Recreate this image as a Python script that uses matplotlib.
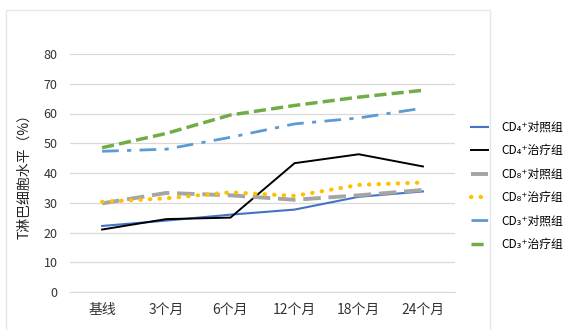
import matplotlib.pyplot as plt
from matplotlib.patches import Rectangle
import numpy as np

plt.rcParams['font.family'] = ['Noto Sans CJK SC', 'DejaVu Sans']

CATEGORIES = ["基线", "3个月", "6个月", "12个月", "18个月", "24个月"]
Y_TICKS = [0, 10, 20, 30, 40, 50, 60, 70, 80]

cd4_ctrl = [22.2, 24.0, 26.0, 27.7, 32.0, 33.8]
cd4_treat = [21.0, 24.5, 25.0, 43.3, 46.3, 42.2]
cd8_ctrl = [29.8, 33.3, 32.5, 31.0, 32.5, 34.3]
cd8_treat = [30.3, 31.5, 33.5, 32.3, 36.0, 36.8]
cd3_ctrl = [47.3, 48.0, 52.0, 56.5, 58.5, 61.8]
cd3_treat = [48.5, 53.3, 59.5, 62.7, 65.5, 67.8]

LABELS = ["CD₄⁺对照组", "CD₄⁺治疗组", "CD₈⁺对照组", "CD₈⁺治疗组", "CD₃⁺对照组", "CD₃⁺治疗组"]

fig = plt.figure(figsize=(5.68, 3.30), dpi=100)
# faint outer frame of the chart area
fig.patches.append(Rectangle((6 / 568, -0.05), 484 / 568, 1.05 - 10 / 330,
                             transform=fig.transFigure, fill=False,
                             edgecolor="#e6e6e6", linewidth=1.0))
ax = fig.add_axes([70 / 568, 1 - 292 / 330, 385 / 568, 238 / 330])

x = np.arange(len(CATEGORIES))
ax.plot(x, cd4_ctrl, color="#4472C4", lw=1.5, label=LABELS[0])
ax.plot(x, cd4_treat, color="#000000", lw=1.4, label=LABELS[1])
ax.plot(x, cd8_ctrl, color="#A5A5A5", lw=2.8, ls=(0, (4.5, 2)), label=LABELS[2])
ax.plot(x, cd8_treat, color="#FFC000", lw=3.0, ls=(0, (0.1, 2.2)),
        dash_capstyle="round", label=LABELS[3])
ax.plot(x, cd3_ctrl, color="#5B9BD5", lw=2.0, ls=(0, (6, 3, 1.5, 3)), label=LABELS[4])
ax.plot(x, cd3_treat, color="#70AD47", lw=2.5, ls=(0, (3.5, 1.5)), label=LABELS[5])

ax.set_xlim(-0.5, len(CATEGORIES) - 0.5)
ax.set_ylim(0, 80)
ax.set_yticks(Y_TICKS)
ax.set_xticks(x)
ax.set_xticklabels(CATEGORIES, fontsize=10, color="#333333")
ax.tick_params(axis="y", labelsize=9, colors="#333333", length=0, pad=9)
ax.tick_params(axis="x", length=0, pad=8)
ax.grid(axis="y", color="#d9d9d9", lw=0.9)
ax.set_axisbelow(True)
for s in ["top", "right", "left"]:
    ax.spines[s].set_visible(False)
ax.spines["bottom"].set_color("#d9d9d9")
ax.set_ylabel("T淋巴细胞水平（%）", fontsize=10, color="#222222", labelpad=9)

fig.legend(*ax.get_legend_handles_labels(), loc="upper left",
           bbox_to_anchor=(471 / 568, 1 - 121 / 330), frameon=False,
           prop={"size": 8.5, "weight": "medium"}, handlelength=1.4,
           labelspacing=0.88, handletextpad=1.2, borderpad=0, borderaxespad=0)

fig.savefig("out.png", dpi=100)
